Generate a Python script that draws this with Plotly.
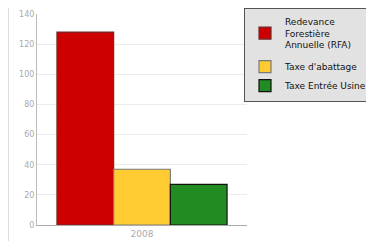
import plotly.graph_objects as go

categories = ["2008"]
series_names = ["Redevance<br>Forestière<br>Annuelle (RFA)", "Taxe d'abattage", "Taxe Entrée Usine"]
series_values = [[128], [37], [27]]
series_colors = ["#cc0000", "#ffcc33", "#228b22"]
series_lines = ["#6e2a2a", "#7a7a7a", "#111111"]
legend_groups = ["a", "b", "b"]
y_ticks = [0, 20, 40, 60, 80, 100, 120, 140]

# the page body has an 8px margin, so the figure starts at page (8, 8)
OFF = 8
W, H = 374 - OFF, 243 - OFF
L, R, T, B = 29, 127, 6, 18
pw, ph = W - L - R, H - T - B

fig = go.Figure()
for name, vals, col, lc, grp in zip(series_names, series_values, series_colors,
                                     series_lines, legend_groups):
    fig.add_trace(go.Bar(x=categories, y=vals, name=name, legendgroup=grp,
                         marker=dict(color=col, line=dict(color=lc, width=1.2))))

def px_x(p):  # page pixel -> paper fraction
    return (p - OFF - L) / pw

def px_y(p):
    return (H - B - (p - OFF)) / ph

fig.update_layout(
    width=W, height=H,
    margin=dict(l=L, r=R, t=T, b=B, autoexpand=False),
    paper_bgcolor="white", plot_bgcolor="white",
    barmode="group", bargap=0.19, bargroupgap=0,
    font=dict(family="DejaVu Sans", size=8, color="#999999"),
    showlegend=True,
    legend=dict(x=px_x(244), y=px_y(8), xanchor="left", yanchor="top",
                bgcolor="#e2e2e2", bordercolor="#555555", borderwidth=1,
                font=dict(family="DejaVu Sans", size=9, color="#111111"),
                traceorder="grouped", tracegroupgap=5, itemwidth=30),
    xaxis=dict(showgrid=False, showline=True, linecolor="#aaaaaa", linewidth=1,
               ticks="", tickfont=dict(size=9, color="#aaaaaa")),
    yaxis=dict(range=[0, 140], tickvals=y_ticks, showgrid=True, gridcolor="#ececec",
               showline=True, linecolor="#bbbbbb", linewidth=1, ticks="",
               zeroline=False, tickfont=dict(size=8, color="#aaaaaa")),
    shapes=[dict(type="line", xref="paper", yref="paper",
                 x0=px_x(8.5), x1=px_x(8.5), y0=px_y(241), y1=px_y(8),
                 line=dict(color="#dddddd", width=1))],
)

fig.write_html("out.html")
